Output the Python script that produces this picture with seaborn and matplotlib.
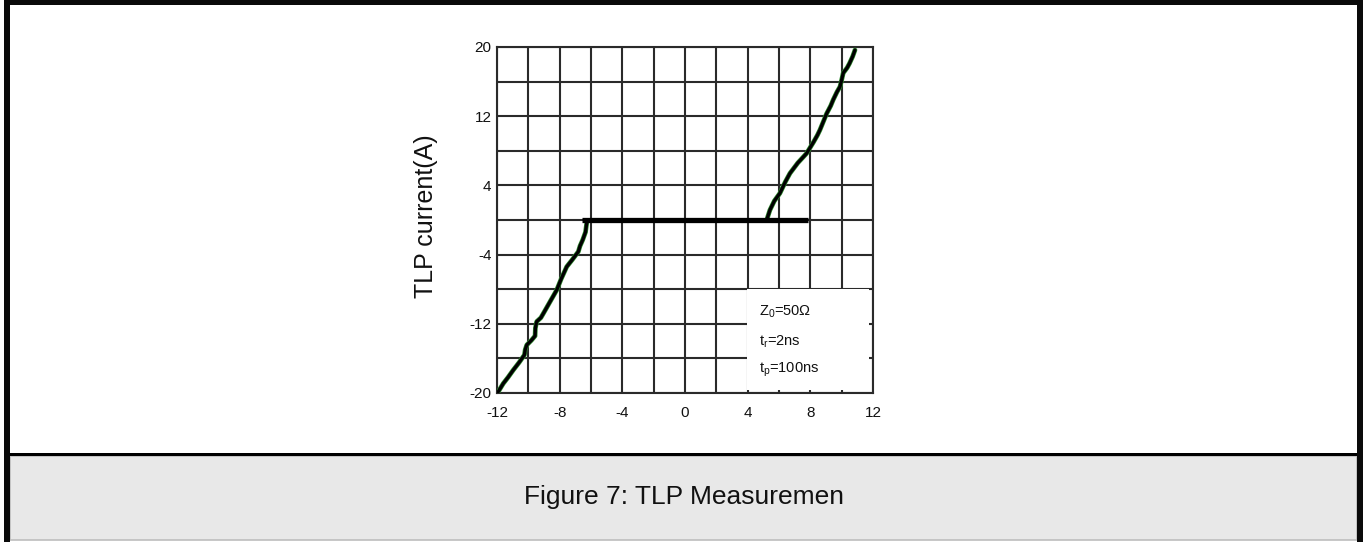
import matplotlib
matplotlib.use("Agg")
import matplotlib.pyplot as plt
from matplotlib.patches import Rectangle
import seaborn as sns
import pandas as pd
import numpy as np

# ---- data ----
neg_v = [-11.92, -11.6, -11.3, -10.96, -10.6, -10.25, -10.2, -10.1, -9.8, -9.57, -9.55, -9.47, -9.2, -9.04, -8.6, -8.19, -7.9, -7.55, -7.2, -6.81, -6.7, -6.53, -6.35, -6.27]
neg_i = [-19.85, -18.9, -18.2, -17.34, -16.5, -15.6, -15.0, -14.45, -13.9, -13.4, -12.5, -11.75, -11.3, -10.8, -9.4, -8.1, -6.8, -5.4, -4.6, -3.66, -3.0, -2.3, -1.4, -0.3]
pos_v = [5.25, 5.42, 5.7, 6.06, 6.4, 6.70, 7.2, 7.76, 8.2, 8.45, 8.61, 9.04, 9.3, 9.46, 9.7, 9.89, 10.0, 10.1, 10.35, 10.5, 10.7, 10.85]
pos_i = [0.2, 1.15, 2.2, 3.1, 4.4, 5.4, 6.6, 7.7, 9.0, 9.8, 10.4, 12.3, 13.2, 13.9, 14.8, 15.4, 16.2, 17.0, 17.6, 18.1, 18.9, 19.65]
hold_v = [-6.55, 7.85]
hold_i = [0.0, 0.0]

x_ticks = [-12, -8, -4, 0, 4, 8, 12]
y_ticks = [-20, -12, -4, 4, 12, 20]
x_label = ""
y_label = "TLP current(A)"
caption = "Figure 7: TLP Measuremen"
notes = ["Z$_0$=50Ω", "t$_r$=2ns", "t$_p$=100ns"]

sns.set_theme(style="white")
plt.rcParams['font.family'] = ['Liberation Sans', 'DejaVu Sans']
plt.rcParams['mathtext.fontset'] = 'custom'
plt.rcParams['mathtext.rm'] = 'Liberation Sans'
plt.rcParams['mathtext.it'] = 'Liberation Sans'
plt.rcParams['axes.unicode_minus'] = False

W, H = 1369, 542
fig = plt.figure(figsize=(W / 100, H / 100), dpi=100)
fig.patch.set_facecolor("white")

def fx(px):
    return px / W

def fy(py):
    return 1 - py / H

# frame and caption band
fig.patches.append(Rectangle((fx(10), fy(540)), fx(1357) - fx(10), fy(456) - fy(540),
                             transform=fig.transFigure, facecolor="#e8e8e8",
                             edgecolor="#bdbdbd", linewidth=1.2, zorder=0))
fig.patches.append(Rectangle((fx(10), fy(456)), fx(1357) - fx(10), fy(453) - fy(456),
                             transform=fig.transFigure, facecolor="black", edgecolor="none", zorder=1))
fig.patches.append(Rectangle((fx(4), fy(542)), fx(10) - fx(4), 1 - fy(542) + 0.01,
                             transform=fig.transFigure, facecolor="#0a0a0a", edgecolor="none", zorder=1))
fig.patches.append(Rectangle((fx(1357), fy(542)), fx(1363) - fx(1357), 1 - fy(542) + 0.01,
                             transform=fig.transFigure, facecolor="#0a0a0a", edgecolor="none", zorder=1))
fig.patches.append(Rectangle((fx(4), fy(5)), fx(1363) - fx(4), 1 - fy(5) + 0.01,
                             transform=fig.transFigure, facecolor="#0a0a0a", edgecolor="none", zorder=1))
fig.text(fx(684), fy(497), caption, ha="center", va="center", fontsize=19, color="#111111")

ax = fig.add_axes([fx(497), fy(393), fx(873) - fx(497), fy(47) - fy(393)])
ax.set_facecolor("white")

df_neg = pd.DataFrame({"V": neg_v, "I": neg_i})
df_pos = pd.DataFrame({"V": pos_v, "I": pos_i})
df_hold = pd.DataFrame({"V": hold_v, "I": hold_i})

for d in (df_neg, df_pos):
    sns.lineplot(data=d, x="V", y="I", sort=False, ax=ax, color="#2e8b2e", linewidth=3.4, zorder=3)
    sns.lineplot(data=d, x="V", y="I", sort=False, ax=ax, color="black", linewidth=2.4, zorder=4)
sns.lineplot(data=df_hold, x="V", y="I", sort=False, ax=ax, color="black", linewidth=3.8, zorder=4,
             solid_capstyle="butt")

ax.set_xlim(-12, 12)
ax.set_ylim(-20, 20)
ax.set_xticks(x_ticks)
ax.set_yticks(y_ticks)
ax.set_xticks(np.arange(-12, 13, 2), minor=True)
ax.set_yticks(np.arange(-20, 21, 4), minor=True)
ax.grid(True, which="both", color="#2a2a2a", linewidth=1.5, zorder=1)
ax.set_axisbelow(True)
ax.tick_params(which="both", length=0)
ax.tick_params(axis="x", pad=9.5, labelsize=11, colors="#111111")
ax.tick_params(axis="y", pad=4, labelsize=11, colors="#111111")
for s in ax.spines.values():
    s.set_color("#2a2a2a")
    s.set_linewidth(1.5)
ax.set_xlabel(x_label)
ax.set_ylabel(y_label, fontsize=18, color="#111111")
ax.yaxis.set_label_coords(-(497 - 438) / (873 - 497), 0.51)

# annotation box (data coordinates derived from the reference pixel layout)
box_x0 = (747 - 497) / (873 - 497) * 24 - 12
box_x1 = (869 - 497) / (873 - 497) * 24 - 12
box_y0 = 20 - (390 - 47) / (393 - 47) * 40
box_y1 = 20 - (289 - 47) / (393 - 47) * 40
ax.add_patch(Rectangle((box_x0, box_y0), box_x1 - box_x0, box_y1 - box_y0,
                       facecolor="white", edgecolor="none", zorder=5))
for k, py in enumerate([312, 342, 370]):
    yy = 20 - (py - 47) / (393 - 47) * 40
    xx = (759 - 497) / (873 - 497) * 24 - 12
    ax.text(xx, yy, notes[k], ha="left", va="center", fontsize=10.5, color="#111111", zorder=6)

fig.savefig("out.png", dpi=100)
